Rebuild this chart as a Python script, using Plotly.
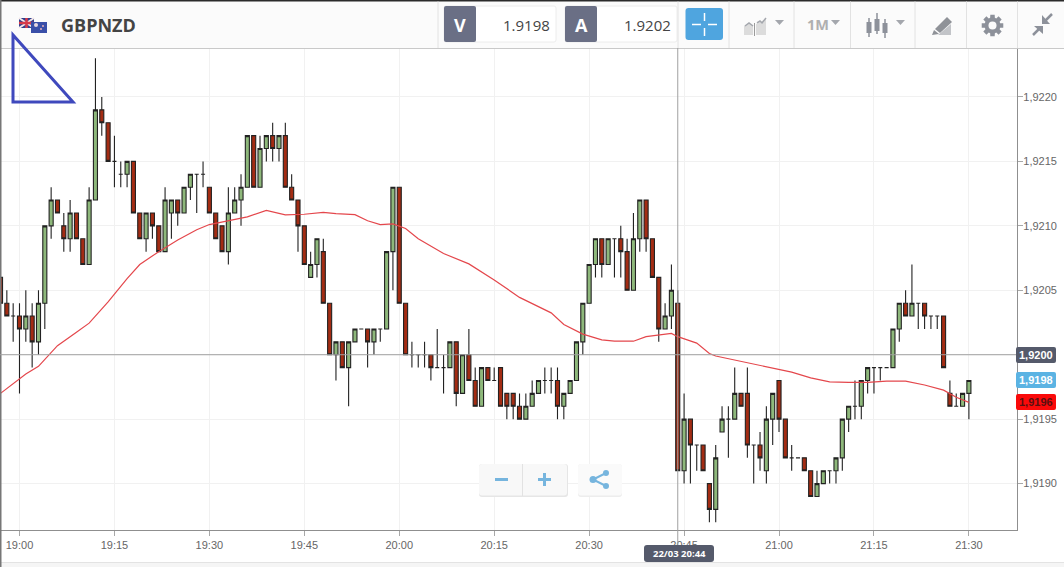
import math
import pandas as pd
import plotly.graph_objects as go

W, H = 1064, 567
FONT = "Open Sans"
AXIS_FONT = "Liberation Sans"
BASE = 1.92  # candles are written in pips above/below 1.9200
PIP = 0.0001

# 1 minute candles, first one at 18:57, last one at 21:30
open_pips = [
    6, 4, 3, 3, 2, 3, 1, 4, 10, 12,
    10, 9, 11, 9, 7, 12, 19, 18, 15, 14,
    14, 15, 11, 9, 11, 10, 8, 11, 12, 11,
    13, 14, 14, 13, 11, 10, 8, 11, 12, 13,
    17, 13, 16, 17, 16, 17, 13, 12, 10, 6,
    7, 8, 4, 0, 1, -1, 1, 2, 2, 1,
    2, 2, 8, 13, 4, 0, 0, 0, 0, -1,
    -1, -1, 1, -3, 0, -2, -4, -1, -2, -1,
    -3, -3, -4, -5, -4, -3, -2, -2, -2, -4,
    -3, -2, 1, 4, 7, 9, 7, 9, 9, 8,
    5, 9, 12, 9, 6, 2, 3, 4, -9, -5,
    -7, -7, -10, -12, -6, -5, -5, -3, -3, -7,
    -7, -9, -5, -2, -5, -8, -8, -8, -9, -11,
    -10, -9, -9, -8, -5, -4, -4, -2, -1, -1,
    -1, -1, 2, 4, 3, 4, 4, 3, 3, 3,
    -3, -4, -4, -3,
]
close_pips = [
    4, 3, 3, 2, 3, 1, 4, 10, 12, 11,
    9, 11, 9, 7, 12, 19, 18, 15, 15, 14,
    15, 11, 9, 11, 10, 8, 12, 12, 11, 13,
    14, 14, 14, 11, 9, 8, 11, 12, 13, 17,
    13, 16, 17, 16, 17, 13, 12, 10, 7, 7,
    9, 4, 0, 1, -1, 1, 2, 2, 1, 2,
    2, 8, 13, 4, 0, 0, 0, 0, -1, -1,
    -1, 1, -3, 0, -2, -4, -1, -2, -2, -4,
    -4, -4, -5, -4, -3, -2, -2, -2, -4, -3,
    -2, 1, 4, 7, 9, 7, 9, 9, 8, 5,
    9, 12, 9, 6, 2, 3, 5, -9, -5, -7,
    -7, -9, -12, -8, -5, -5, -3, -4, -7, -7,
    -8, -5, -3, -5, -8, -8, -8, -9, -11, -10,
    -9, -9, -8, -5, -4, -4, -2, -1, -1, -1,
    -1, 2, 4, 3, 4, 4, 3, 3, 3, -1,
    -4, -4, -3, -2,
]
high_pips = [
    6, 5, 4, 4, 5, 4, 5, 10, 13, 12,
    11, 12, 11, 9, 13, 23, 20, 18, 17, 15,
    15, 15, 11, 11, 11, 10, 13, 12, 12, 13,
    14, 14, 15, 13, 11, 10, 13, 13, 14, 17,
    17, 17, 17, 18, 17, 18, 14, 12, 10, 8,
    9, 9, 4, 1, 1, 1, 2, 2, 2, 2,
    2, 8, 13, 13, 4, 1, 0, 1, 0, 2,
    0, 1, 1, 0, 2, -1, -1, -1, -1, -1,
    -3, -3, -3, -3, -2, -2, -1, -1, -1, -3,
    -2, 1, 4, 7, 9, 9, 9, 9, 10, 9,
    11, 12, 12, 9, 6, 4, 7, 5, -3, -5,
    -7, -7, -10, -7, -4, -4, -1, -3, -1, -7,
    -6, -4, -3, -2, -5, -7, -8, -8, -9, -9,
    -9, -9, -8, -5, -4, -2, -2, -1, -1, -1,
    -1, 2, 4, 5, 7, 4, 4, 3, 3, 3,
    -2, -3, -3, -2,
]
low_pips = [
    4, 3, 1, -3, 1, -1, 0, 2, 9, 11,
    8, 8, 9, 7, 7, 12, 17, 15, 13, 13,
    13, 11, 9, 8, 9, 8, 8, 9, 10, 11,
    12, 11, 13, 11, 9, 8, 7, 11, 10, 13,
    13, 13, 15, 15, 15, 13, 12, 8, 7, 6,
    6, 4, 0, -2, -1, -4, 1, 2, -1, 0,
    1, 2, 5, 4, 0, -1, -1, -1, -2, -1,
    -3, -1, -4, -3, -2, -4, -4, -2, -2, -4,
    -5, -5, -5, -5, -4, -3, -3, -3, -5, -5,
    -3, -2, 0, 4, 6, 6, 7, 6, 6, 5,
    5, 8, 8, 6, 1, 2, 2, -9, -10, -10,
    -9, -9, -13, -13, -6, -8, -5, -4, -8, -10,
    -9, -10, -7, -6, -8, -9, -8, -9, -11, -11,
    -10, -10, -10, -9, -6, -5, -5, -3, -3, -2,
    -1, -1, 1, 3, 3, 2, 2, 2, 2, -1,
    -4, -4, -4, -5,
]

# moving average, minutes after 19:00 and pips
ma_minutes = [-3, -1, 1, 3, 5, 6, 9, 11, 14, 17, 19, 22, 25, 28, 30, 33, 36, 39,
              42, 45, 48, 50, 53, 55, 57, 59, 61, 63, 67, 71, 75, 79, 82, 84, 86,
              89, 92, 94, 97, 99, 103, 104, 107, 109, 110, 113, 115, 119, 122,
              125, 128, 131, 134, 137, 140, 143, 146, 148, 150]
ma_pips = [-3.0, -2.25, -1.5, -0.9, 0.2, 0.7, 1.75, 2.45, 4.1, 5.9, 7.0, 8.0, 8.9, 9.7,
           10.1, 10.4, 10.7, 11.2, 10.85, 10.9, 11.05, 10.95, 10.87, 10.4, 10.1, 10.15,
           9.8, 9.0, 7.85, 7.05, 5.8, 4.45, 3.75, 3.25, 2.35, 1.6, 1.15, 1.05, 1.05,
           1.4, 1.65, 1.4, 0.9, 0.1, -0.1, -0.4, -0.65, -1.0, -1.35, -1.8, -2.1, -2.15,
           -2.15, -2.05, -2.05, -2.35, -2.75, -3.3, -3.7]

y_ticks = [1.919, 1.9195, 1.92, 1.9205, 1.921, 1.9215, 1.922]
y_labels = ["1,9190", "1,9195", "", "1,9205", "1,9210", "1,9215", "1,9220"]  # 1,9200 is in the badge

times = pd.date_range("2017-03-22 18:57", periods=len(open_pips), freq="min")
t0 = pd.Timestamp("2017-03-22 19:00")


def price(pips):
    return [BASE + p * PIP for p in pips]


# page pixels to paper coordinates, plot fills the page through the domains
def X(px):
    return px / W


def Y(py):
    return 1 - py / H


def rect(x0, y0, x1, y1, fill, line="rgba(0,0,0,0)", width=1):
    return dict(type="rect", xref="paper", yref="paper", x0=X(x0), y0=Y(y0), x1=X(x1), y1=Y(y1),
                fillcolor=fill, line=dict(color=line, width=width))


def hline(x0, x1, y, color, width=1):
    return dict(type="line", xref="paper", yref="paper", x0=X(x0), x1=X(x1), y0=Y(y), y1=Y(y),
                line=dict(color=color, width=width))


def vline(x, y0, y1, color, width=1):
    return dict(type="line", xref="paper", yref="paper", x0=X(x), x1=X(x), y0=Y(y0), y1=Y(y1),
                line=dict(color=color, width=width))


def poly(pts, fill=None, line=None, width=1, close=True):
    d = "M " + " L ".join(f"{X(a):.5f},{Y(b):.5f}" for a, b in pts) + (" Z" if close else "")
    return dict(type="path", xref="paper", yref="paper", path=d,
                fillcolor=fill or "rgba(0,0,0,0)", line=dict(color=line or "rgba(0,0,0,0)", width=width))


def rrect(x0, y0, x1, y1, r, fill, line=None):
    d = (f"M {X(x0+r)},{Y(y0)} L {X(x1-r)},{Y(y0)} Q {X(x1)},{Y(y0)} {X(x1)},{Y(y0+r)} "
         f"L {X(x1)},{Y(y1-r)} Q {X(x1)},{Y(y1)} {X(x1-r)},{Y(y1)} L {X(x0+r)},{Y(y1)} "
         f"Q {X(x0)},{Y(y1)} {X(x0)},{Y(y1-r)} L {X(x0)},{Y(y0+r)} Q {X(x0)},{Y(y0)} {X(x0+r)},{Y(y0)} Z")
    return dict(type="path", xref="paper", yref="paper", path=d, fillcolor=fill,
                line=dict(color=line or "rgba(0,0,0,0)", width=1))


def circle(cx, cy, r, fill):
    return dict(type="circle", xref="paper", yref="paper", x0=X(cx - r), x1=X(cx + r), y0=Y(cy + r), y1=Y(cy - r),
                fillcolor=fill, line=dict(color="rgba(0,0,0,0)", width=0))


def text(x, y, s, size=12, color="#444", bold=False, anchor="center", family=FONT):
    label = f"<b>{s}</b>" if bold else s
    return dict(xref="paper", yref="paper", x=X(x), y=Y(y), text=label, showarrow=False, xanchor=anchor,
                yanchor="middle", font=dict(size=size, color=color, family=family))


ICON = "#a4a7ad"
BLUE = "#76b5de"
shapes = []
notes = []

# header
shapes += [rect(0, 0, W, 48, "#fbfbfb"), hline(0, W, 48.5, "#c9c9c9"), rect(0, 0, W, 1.5, "#2b2b2b"),
           hline(0, W, 562.5, "#e3e3e3"), rect(0, 563, W, H, "#f5f5f5"), rect(0, 0, 1.5, H, "#777777")]

# flags
shapes += [rect(19, 18, 34, 28, "#2f3f8f"), poly([(19, 18), (34, 28)], line="#f4e8e8", width=2, close=False),
           poly([(34, 18), (19, 28)], line="#f4e8e8", width=2, close=False),
           hline(19, 34, 23, "#d63b4a", 2.5), vline(26.5, 18, 28, "#d63b4a", 2.5),
           rect(31, 22, 47, 33, "#3a4fa8"), circle(43, 26, 1, "#e8b0b8"), circle(41, 29, 1, "#e8b0b8"),
           circle(36, 25, 2, "#e8d8e0")]
notes.append(text(59, 25, "GBPNZD", 18, "#444444", True, "left"))

# bid/ask boxes
for x0, x1, x2, letter, val in [(444, 476, 556, "V", "1.9198"), (565, 597, 677, "A", "1.9202")]:
    shapes.append(rrect(x0, 6, x2, 42, 2, "#ffffff", "#ececec"))
    shapes.append(rrect(x0, 6, x1, 42, 2, "#6a6f85"))
    notes.append(text((x0 + x1) / 2, 25, letter, 18, "#ffffff", True))
    notes.append(text(x2 - 4, 25, val, 15, "#444444", False, "right"))

for sx in [438, 678, 729, 794, 850.5, 915, 966.5, 1017.5]:
    shapes.append(vline(sx, 1.5, 48, "#e2e2e2"))

# crosshair button
shapes += [rrect(685.5, 8, 723, 40, 3, "#4fa5df"), hline(692, 701, 24.5, "#ffffff", 1.5), hline(708, 717, 24.5, "#ffffff", 1.5),
           vline(704.5, 13, 21, "#ffffff", 1.5), vline(704.5, 28, 36, "#ffffff", 1.5)]

# chart type icon
shapes += [poly([(744, 35), (744, 26), (749, 23), (753, 26), (753, 35)], fill="#dcdcdc"),
           poly([(756, 35), (756, 24), (766, 19), (766, 35)], fill="#dcdcdc"),
           vline(754.5, 23, 36, "#9a9a9a", 1),
           poly([(745, 26), (749, 23), (753, 26)], line=ICON, width=1.5, close=False),
           poly([(757, 23), (760, 21), (762, 23), (766, 18)], line=ICON, width=1.5, close=False),
           poly([(775, 20), (784, 20), (779.5, 25)], fill=ICON)]
notes.append(text(805, 25, "1M", 14.5, "#b0b0b0", True, "left"))
shapes.append(poly([(831, 20), (840, 20), (835.5, 25)], fill=ICON))

# candle icon
for cx, t, b, wt, wb in [(869, 22, 33, 18, 37), (877, 19, 31, 13, 34), (885, 23, 33, 19, 38)]:
    shapes += [vline(cx, wt, wb, "#8d919a", 1.5), rect(cx - 2.5, t, cx + 2.5, b, "#8d919a")]
shapes.append(poly([(896, 20), (905, 20), (900.5, 25)], fill=ICON))

# pen icon
shapes += [poly([(935, 29), (947, 17), (952, 22), (940, 33)], fill="#8f9298"),
           poly([(932, 35), (934, 30), (939, 34)], fill="#8f9298"),
           poly([(938, 35), (951, 35), (951, 24)], fill="#c2c4c8")]

# settings gear
gear = []
for i in range(8):
    a = i * math.pi / 4
    for off, r in [(-0.3, 8), (-0.2, 11), (0.2, 11), (0.3, 8)]:
        gear.append((992.5 + r * math.cos(a + off), 25.5 + r * math.sin(a + off)))
shapes += [poly(gear, fill="#8d919a"), circle(992.5, 25.5, 4, "#fbfbfb")]

# compress arrows
shapes += [poly([(1052, 14), (1045, 21)], line="#8d919a", width=2.5, close=False),
           poly([(1042, 15), (1042, 24), (1050, 24)], fill="#8d919a"),
           poly([(1033, 35), (1039, 29)], line="#8d919a", width=2.5, close=False),
           poly([(1034, 26), (1043, 26), (1043, 34)], fill="#8d919a")]

# triangle drawn on the chart
shapes.append(poly([(13, 35), (13, 102), (73, 102)], line="#3f49bd", width=3))

# crosshair, from the data scale
shapes.append(dict(type="line", xref="paper", yref="y", x0=0, x1=X(1017), y0=1.92, y1=1.92, line=dict(color="#a0a0a0", width=1)))
shapes.append(dict(type="line", xref="x", yref="paper", x0=times[107], x1=times[107], y0=Y(48), y1=Y(546), line=dict(color="#a0a0a0", width=1)))

# zoom and share buttons
shapes += [rrect(479, 464, 568, 497, 3, "#e6e6e6"), rrect(479, 464, 567, 495.5, 3, "#f8f8f8"), vline(522.5, 464, 496, "#e2e2e2"),
           rrect(578, 464, 622, 497, 3, "#ededed"), rrect(578, 464, 622, 495.5, 3, "#fafafa"),
           hline(495, 508, 479.5, BLUE, 3), hline(538, 551, 479.5, BLUE, 3), vline(544.5, 473, 486, BLUE, 3),
           poly([(606, 473), (593, 479.5), (606, 486)], line=BLUE, width=2, close=False),
           circle(593, 479.5, 3.5, BLUE), circle(606, 473, 3, BLUE), circle(606, 486, 3, BLUE)]

# price and time badges
for yc, fill, label, color in [(355, "#555a6b", "1,9200", "#ffffff"), (380, "#5bb3e3", "1,9198", "#ffffff"), (402, "#fa0a0a", "1,9196", "#5a1010")]:
    shapes.append(rrect(1016, yc - 8, 1056, yc + 8, 2, fill))
    notes.append(text(1036, yc, label, 11, color, True, family=AXIS_FONT))
shapes.append(rrect(644, 545, 714, 562, 3, "#555a6b"))
notes.append(text(679, 553.5, "22/03 20:44", 9.5, "#ffffff", True))

fig = go.Figure()
fig.add_trace(go.Candlestick(
    x=times, open=price(open_pips), high=price(high_pips), low=price(low_pips), close=price(close_pips),
    whiskerwidth=0,
    increasing=dict(fillcolor="#8eb87b", line=dict(color="#222222", width=1.1)),
    decreasing=dict(fillcolor="#a32c13", line=dict(color="#222222", width=1.1)),
))
fig.add_trace(go.Scatter(x=[t0 + pd.Timedelta(minutes=m) for m in ma_minutes], y=price(ma_pips),
                         mode="lines", line=dict(color="#e4474c", width=1.2)))

fig.update_layout(
    width=W, height=H, margin=dict(l=0, r=0, t=0, b=0), showlegend=False, paper_bgcolor="#ffffff", plot_bgcolor="#ffffff",
    separators=",.", boxgap=0.36, boxgroupgap=0, font=dict(family=AXIS_FONT, size=11, color="#666666"),
    shapes=shapes, annotations=notes,
    xaxis=dict(domain=[0, 1017 / W], range=[t0 - pd.Timedelta(minutes=3.08), t0 + pd.Timedelta(minutes=157.6)],
               rangeslider=dict(visible=False), tickformat="%H:%M", dtick=900000, tick0=t0,
               showgrid=True, gridcolor="#f1f1f1", showline=True, linecolor="#8f8f8f", linewidth=1.2, ticks="outside", ticklen=5,
               tickcolor="#a8a8a8", anchor="y"),
    yaxis=dict(domain=[Y(530), Y(48)], range=[1.91864, 1.92238], side="right", tickvals=y_ticks, ticktext=y_labels,
               showgrid=True, gridcolor="#f1f1f1", showline=True, linecolor="#8f8f8f", linewidth=1.2, ticks="outside", ticklen=5,
               ticklabelstandoff=-2, tickcolor="#a8a8a8", anchor="x", zeroline=False),
)

fig.write_html("out.html", config={"displayModeBar": False}, post_script="document.body.style.margin='0';")
